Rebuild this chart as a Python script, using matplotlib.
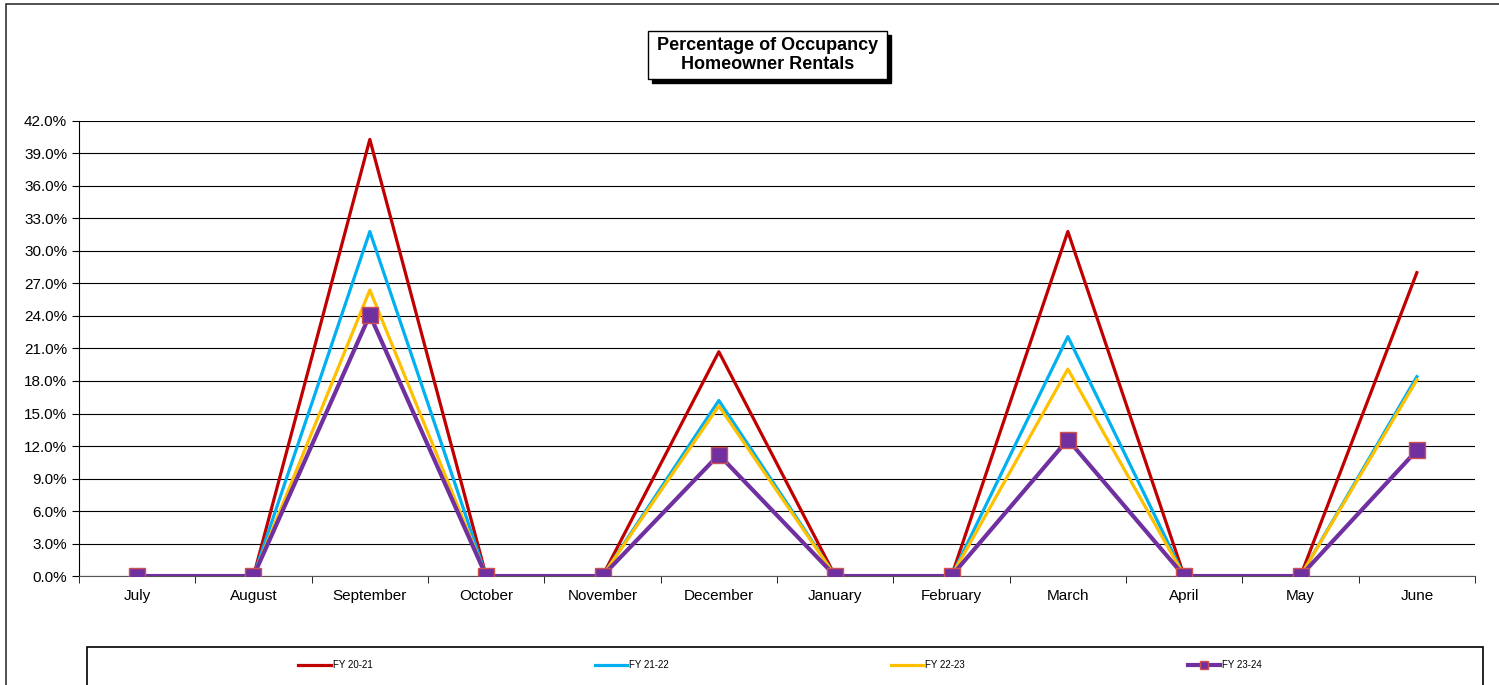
import matplotlib.pyplot as plt
from matplotlib.patches import Rectangle
from matplotlib.ticker import FuncFormatter, MultipleLocator

plt.rcParams['font.family'] = ['Liberation Sans', 'DejaVu Sans']

months = ['July', 'August', 'September', 'October', 'November', 'December',
          'January', 'February', 'March', 'April', 'May', 'June']

fy_20_21 = [0, 0, 40.3, 0, 0, 20.7, 0, 0, 31.8, 0, 0, 28.0]
fy_21_22 = [0, 0, 31.8, 0, 0, 16.2, 0, 0, 22.1, 0, 0, 18.4]
fy_22_23 = [0, 0, 26.4, 0, 0, 15.7, 0, 0, 19.1, 0, 0, 18.1]
fy_23_24 = [0, 0, 24.1, 0, 0, 11.2, 0, 0, 12.6, 0, 0, 11.6]

fig = plt.figure(figsize=(14.99, 6.85), dpi=100)
ax = fig.add_axes([0.0527, 0.1591, 0.9313, 0.6643])

x = range(len(months))
ax.plot(x, fy_20_21, color='#C00000', lw=2.3, label='FY 20-21', zorder=3)
ax.plot(x, fy_21_22, color='#00B0F0', lw=2.3, label='FY 21-22', zorder=3)
ax.plot(x, fy_22_23, color='#FFC000', lw=2.3, label='FY 22-23', zorder=3)
ax.plot(x, fy_23_24, color='#7030A0', lw=3, marker='s', markersize=11.5,
        markerfacecolor='#7030A0', markeredgecolor='#D05050', markeredgewidth=1,
        label='FY 23-24', zorder=4)

ax.set_xlim(-0.5, 11.5)
ax.set_ylim(0, 42)
ax.yaxis.set_major_locator(MultipleLocator(3))
ax.yaxis.set_major_formatter(FuncFormatter(lambda v, p: f'{v:.1f}%'))
ax.grid(axis='y', color='#000000', lw=0.8)
ax.set_axisbelow(True)

ax.set_xticks(list(x))
ax.set_xticklabels(months, fontsize=11)
ax.set_xticks([i + 0.5 for i in range(-1, 12)], minor=True)
ax.tick_params(axis='x', which='major', length=0, pad=9)
ax.tick_params(axis='x', which='minor', length=5, direction='out', color='black')
ax.tick_params(axis='y', labelsize=11, length=5, direction='out', color='black')

for s in ['top', 'right']:
    ax.spines[s].set_visible(False)
ax.spines['left'].set_color('black')
ax.spines['bottom'].set_color('#555555')

# outer chart frame
fig.add_artist(Rectangle((6 / 1499, -0.1), 1.2, 1.1 - 4 / 685, transform=fig.transFigure,
                         fill=False, edgecolor='#333333', lw=1.2, clip_on=False))

# title box with shadow
bx0, bx1 = 648 / 1499, 887 / 1499
by0, by1 = 1 - 79 / 685, 1 - 31 / 685
fig.add_artist(Rectangle((bx0 + 4 / 1499, by0 - 4 / 685), bx1 - bx0, by1 - by0,
                         transform=fig.transFigure, facecolor='black', edgecolor='black'))
fig.add_artist(Rectangle((bx0, by0), bx1 - bx0, by1 - by0, transform=fig.transFigure,
                         facecolor='white', edgecolor='black', lw=1))
fig.text((bx0 + bx1) / 2, (by0 + by1) / 2, 'Percentage of Occupancy\nHomeowner Rentals',
         ha='center', va='center', fontsize=13, fontweight='bold', linespacing=1.15)

# legend box
fig.add_artist(Rectangle((87 / 1499, -0.1), (1483 - 87) / 1499, 0.1 + 1 - 647 / 685,
                         transform=fig.transFigure, fill=False, edgecolor='black', lw=1.2,
                         clip_on=False))
fig.legend(loc='center', bbox_to_anchor=(780 / 1499, 1 - 665 / 685), ncol=4,
           frameon=False, fontsize=7, handlelength=3.3, handletextpad=0.2,
           columnspacing=22.9, markerscale=0.55)

plt.savefig('out.png', dpi=100)
